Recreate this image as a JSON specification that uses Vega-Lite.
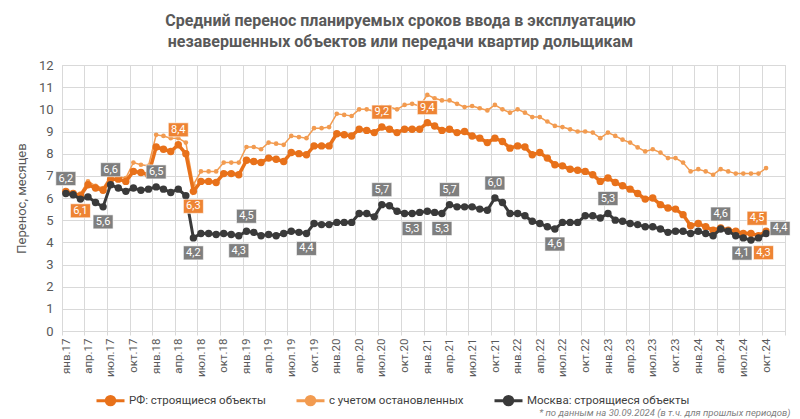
{
"$schema": "https://vega.github.io/schema/vega-lite/v6.json",
"width": 723, "height": 266,
"autosize": {"type": "none"},
"padding": {"left": 62, "top": 65, "right": 15, "bottom": 88},
"background": "white",
"title": {"text": ["Средний перенос планируемых сроков ввода в эксплуатацию", "незавершенных объектов или передачи квартир дольщикам"], "fontSize": 16, "fontWeight": "bold", "color": "#595959", "font": "Roboto", "anchor": "middle", "frame": "group", "dx": -23, "offset": 9, "lineHeight": 21},
"config": {
  "font": "Roboto",
  "view": {"stroke": "#d9d9d9", "strokeWidth": 1},
  "locale": {"number": {"decimal": ",", "thousands": " ", "grouping": [3], "currency": ["", " ₽"]}},
  "axis": {"gridColor": "#d9d9d9", "domainColor": "#d9d9d9", "tickColor": "#d9d9d9", "labelColor": "#595959", "titleColor": "#595959", "labelFont": "Roboto", "titleFont": "Roboto"},
  "axisY": {"labelFontSize": 13, "titleFontSize": 13, "titleFontWeight": "normal", "tickCount": 12, "ticks": false, "domain": false, "labelPadding": 9, "titlePadding": 10}
},
"datasets": {
  "m": [
{"d":"2017-01","rf":6.3,"st":6.3,"msk":6.2},
{"d":"2017-02","rf":6.2,"st":6.2,"msk":6.15},
{"d":"2017-03","rf":6.1,"st":6.2,"msk":5.95},
{"d":"2017-04","rf":6.6,"st":6.75,"msk":6.05},
{"d":"2017-05","rf":6.45,"st":6.55,"msk":5.8},
{"d":"2017-06","rf":6.35,"st":6.45,"msk":5.6},
{"d":"2017-07","rf":6.85,"st":7.0,"msk":6.6},
{"d":"2017-08","rf":6.85,"st":6.95,"msk":6.45},
{"d":"2017-09","rf":6.75,"st":6.9,"msk":6.3},
{"d":"2017-10","rf":7.2,"st":7.6,"msk":6.45},
{"d":"2017-11","rf":7.15,"st":7.5,"msk":6.35},
{"d":"2017-12","rf":7.05,"st":7.45,"msk":6.4},
{"d":"2018-01","rf":8.3,"st":8.85,"msk":6.5},
{"d":"2018-02","rf":8.2,"st":8.8,"msk":6.4},
{"d":"2018-03","rf":8.1,"st":8.7,"msk":6.25},
{"d":"2018-04","rf":8.4,"st":8.7,"msk":6.4},
{"d":"2018-05","rf":8.0,"st":8.5,"msk":6.1},
{"d":"2018-06","rf":6.3,"st":6.6,"msk":4.2},
{"d":"2018-07","rf":6.75,"st":7.2,"msk":4.4},
{"d":"2018-08","rf":6.75,"st":7.2,"msk":4.4},
{"d":"2018-09","rf":6.7,"st":7.2,"msk":4.35},
{"d":"2018-10","rf":7.1,"st":7.6,"msk":4.4},
{"d":"2018-11","rf":7.1,"st":7.6,"msk":4.35},
{"d":"2018-12","rf":7.05,"st":7.6,"msk":4.3},
{"d":"2019-01","rf":7.7,"st":8.3,"msk":4.5},
{"d":"2019-02","rf":7.65,"st":8.3,"msk":4.45},
{"d":"2019-03","rf":7.6,"st":8.2,"msk":4.3},
{"d":"2019-04","rf":7.8,"st":8.5,"msk":4.35},
{"d":"2019-05","rf":7.75,"st":8.45,"msk":4.3},
{"d":"2019-06","rf":7.65,"st":8.4,"msk":4.4},
{"d":"2019-07","rf":8.05,"st":8.8,"msk":4.5},
{"d":"2019-08","rf":8.0,"st":8.75,"msk":4.45},
{"d":"2019-09","rf":7.95,"st":8.7,"msk":4.4},
{"d":"2019-10","rf":8.35,"st":9.15,"msk":4.85},
{"d":"2019-11","rf":8.35,"st":9.15,"msk":4.8},
{"d":"2019-12","rf":8.35,"st":9.2,"msk":4.8},
{"d":"2020-01","rf":8.9,"st":9.8,"msk":4.9},
{"d":"2020-02","rf":8.85,"st":9.75,"msk":4.9},
{"d":"2020-03","rf":8.8,"st":9.7,"msk":4.9},
{"d":"2020-04","rf":9.1,"st":10.0,"msk":5.3},
{"d":"2020-05","rf":9.05,"st":10.0,"msk":5.3},
{"d":"2020-06","rf":8.95,"st":9.9,"msk":5.15},
{"d":"2020-07","rf":9.2,"st":10.1,"msk":5.7},
{"d":"2020-08","rf":9.1,"st":10.1,"msk":5.65},
{"d":"2020-09","rf":8.95,"st":10.0,"msk":5.4},
{"d":"2020-10","rf":9.1,"st":10.2,"msk":5.3},
{"d":"2020-11","rf":9.1,"st":10.25,"msk":5.3},
{"d":"2020-12","rf":9.1,"st":10.15,"msk":5.35},
{"d":"2021-01","rf":9.4,"st":10.65,"msk":5.4},
{"d":"2021-02","rf":9.25,"st":10.5,"msk":5.35},
{"d":"2021-03","rf":9.05,"st":10.4,"msk":5.3},
{"d":"2021-04","rf":9.1,"st":10.4,"msk":5.7},
{"d":"2021-05","rf":8.95,"st":10.25,"msk":5.6},
{"d":"2021-06","rf":9.0,"st":10.1,"msk":5.6},
{"d":"2021-07","rf":8.8,"st":10.15,"msk":5.6},
{"d":"2021-08","rf":8.7,"st":10.05,"msk":5.5},
{"d":"2021-09","rf":8.5,"st":9.95,"msk":5.45},
{"d":"2021-10","rf":8.7,"st":10.2,"msk":6.0},
{"d":"2021-11","rf":8.55,"st":10.0,"msk":5.8},
{"d":"2021-12","rf":8.25,"st":9.85,"msk":5.3},
{"d":"2022-01","rf":8.35,"st":10.0,"msk":5.3},
{"d":"2022-02","rf":8.3,"st":9.85,"msk":5.2},
{"d":"2022-03","rf":7.95,"st":9.65,"msk":4.95},
{"d":"2022-04","rf":8.05,"st":9.65,"msk":4.85},
{"d":"2022-05","rf":7.8,"st":9.45,"msk":4.7},
{"d":"2022-06","rf":7.5,"st":9.25,"msk":4.6},
{"d":"2022-07","rf":7.45,"st":9.2,"msk":4.9},
{"d":"2022-08","rf":7.3,"st":9.1,"msk":4.9},
{"d":"2022-09","rf":7.25,"st":9.0,"msk":4.9},
{"d":"2022-10","rf":7.2,"st":9.0,"msk":5.2},
{"d":"2022-11","rf":7.05,"st":8.95,"msk":5.2},
{"d":"2022-12","rf":6.75,"st":8.7,"msk":5.1},
{"d":"2023-01","rf":6.9,"st":8.95,"msk":5.3},
{"d":"2023-02","rf":6.7,"st":8.8,"msk":5.0},
{"d":"2023-03","rf":6.55,"st":8.63,"msk":4.95},
{"d":"2023-04","rf":6.4,"st":8.5,"msk":4.85},
{"d":"2023-05","rf":6.2,"st":8.28,"msk":4.8},
{"d":"2023-06","rf":5.95,"st":8.1,"msk":4.7},
{"d":"2023-07","rf":6.0,"st":8.2,"msk":4.7},
{"d":"2023-08","rf":5.7,"st":8.05,"msk":4.6},
{"d":"2023-09","rf":5.55,"st":7.8,"msk":4.45},
{"d":"2023-10","rf":5.5,"st":7.8,"msk":4.5},
{"d":"2023-11","rf":5.25,"st":7.6,"msk":4.5},
{"d":"2023-12","rf":4.75,"st":7.2,"msk":4.4},
{"d":"2024-01","rf":4.85,"st":7.3,"msk":4.5},
{"d":"2024-02","rf":4.7,"st":7.2,"msk":4.4},
{"d":"2024-03","rf":4.55,"st":7.05,"msk":4.3},
{"d":"2024-04","rf":4.65,"st":7.3,"msk":4.6},
{"d":"2024-05","rf":4.55,"st":7.2,"msk":4.5},
{"d":"2024-06","rf":4.5,"st":7.1,"msk":4.3},
{"d":"2024-07","rf":4.4,"st":7.1,"msk":4.2},
{"d":"2024-08","rf":4.4,"st":7.1,"msk":4.1},
{"d":"2024-09","rf":4.3,"st":7.1,"msk":4.2},
{"d":"2024-10","rf":4.5,"st":7.35,"msk":4.4}
  ],
  "lu": [
{"d":"2017-01","v":6.2,"s":"msk"},{"d":"2017-07","v":6.6,"s":"msk"},{"d":"2018-01","v":6.5,"s":"msk"},{"d":"2019-01","v":4.5,"s":"msk"},{"d":"2020-07","v":5.7,"s":"msk"},{"d":"2021-04","v":5.7,"s":"msk"},{"d":"2021-10","v":6.0,"s":"msk"},{"d":"2023-01","v":5.3,"s":"msk"},{"d":"2024-04","v":4.6,"s":"msk"},
{"d":"2018-04","v":8.4,"s":"rf"},{"d":"2020-07","v":9.2,"s":"rf"},{"d":"2021-01","v":9.4,"s":"rf"}
  ],
  "ld": [
{"d":"2017-06","v":5.6,"s":"msk"},{"d":"2018-06","v":4.2,"s":"msk"},{"d":"2018-12","v":4.3,"s":"msk"},{"d":"2019-09","v":4.4,"s":"msk"},{"d":"2020-11","v":5.3,"s":"msk"},{"d":"2021-03","v":5.3,"s":"msk"},{"d":"2022-06","v":4.6,"s":"msk"},
{"d":"2017-03","v":6.1,"s":"rf"},{"d":"2018-06","v":6.3,"s":"rf"}
  ],
  "lr": [{"d":"2024-10","v":4.4,"s":"msk"}],
  "lul": [{"d":"2024-10","v":4.5,"s":"rf"}],
  "ldl": [{"d":"2024-08","v":4.1,"s":"msk"}],
  "ldr": [{"d":"2024-09","v":4.3,"s":"rf"}]
},
"encoding": {
  "x": {"field": "d", "type": "temporal", "timeUnit": "utcyearmonth", "bandPosition": 0.5,
    "scale": {"domain": [{"year": 2017, "month": 1, "date": 1, "utc": true}, {"year": 2025, "month": 1, "date": 1, "utc": true}]},
    "title": "* по данным на 30.09.2024 (в т.ч. для прошлых периодов)",
    "axis": {"tickCount": {"interval": "month", "step": 3}, "labelAngle": -90, "labelFontSize": 11.5, "labelPadding": 3, "tickSize": 4, "labelOffset": 4, "labelOverlap": false, "labelBound": false,
      "labelExpr": "utcyear(datum.value) > 2024 ? '' : ['янв','фев','мар','апр','май','июн','июл','авг','сен','окт','ноя','дек'][utcmonth(datum.value)] + '.' + utcFormat(datum.value, '%y')",
      "titleFontSize": 9.5, "titleFontStyle": "italic", "titleFontWeight": "normal", "titleColor": "#7f7f7f", "titleAnchor": "end", "titleAlign": "right", "titleBaseline": "bottom", "titleX": 728, "titleY": 86}
  }
},
"layer": [
  {"data": {"name": "m"}, "mark": {"type": "line", "strokeWidth": 1.5},
   "encoding": {"y": {"field": "st", "type": "quantitative", "scale": {"domain": [0, 12]}, "title": "Перенос, месяцев"},
     "color": {"datum": "с учетом остановленных", "type": "nominal",
       "scale": {"domain": ["РФ: строящиеся объекты", "с учетом остановленных", "Москва: строящиеся объекты"], "range": ["#E8711A", "#F29B50", "#3A3A3A"]},
       "legend": {"orient": "none", "legendX": 33, "legendY": 320, "direction": "horizontal", "title": null, "symbolType": "M-1,0L-0.3,0M0.3,0L1,0M-0.3,0A0.3,0.3,0,1,0,0.3,0A0.3,0.3,0,1,0,-0.3,0", "symbolSize": 784, "symbolStrokeWidth": 3, "labelFontSize": 11.5, "labelColor": "#404040", "columnPadding": 24, "labelOffset": 3, "labelLimit": 300}}}},
  {"data": {"name": "m"}, "mark": {"type": "circle", "size": 22, "opacity": 1},
   "encoding": {"y": {"field": "st", "type": "quantitative", "scale": {"domain": [0, 12]}, "title": "Перенос, месяцев"},
     "color": {"datum": "с учетом остановленных", "type": "nominal"}}},
  {"data": {"name": "m"}, "mark": {"type": "line", "strokeWidth": 3.5},
   "encoding": {"y": {"field": "rf", "type": "quantitative", "scale": {"domain": [0, 12]}, "title": "Перенос, месяцев"},
     "color": {"datum": "РФ: строящиеся объекты", "type": "nominal"}}},
  {"data": {"name": "m"}, "mark": {"type": "circle", "size": 55, "opacity": 1},
   "encoding": {"y": {"field": "rf", "type": "quantitative", "scale": {"domain": [0, 12]}, "title": "Перенос, месяцев"},
     "color": {"datum": "РФ: строящиеся объекты", "type": "nominal"}}},
  {"data": {"name": "m"}, "mark": {"type": "line", "strokeWidth": 3},
   "encoding": {"y": {"field": "msk", "type": "quantitative", "scale": {"domain": [0, 12]}, "title": "Перенос, месяцев"},
     "color": {"datum": "Москва: строящиеся объекты", "type": "nominal"}}},
  {"data": {"name": "m"}, "mark": {"type": "circle", "size": 55, "opacity": 1},
   "encoding": {"y": {"field": "msk", "type": "quantitative", "scale": {"domain": [0, 12]}, "title": "Перенос, месяцев"},
     "color": {"datum": "Москва: строящиеся объекты", "type": "nominal"}}},
  {"data": {"name": "lu"}, "mark": {"type": "point", "shape": "M-1,-0.7L1,-0.7L1,0.7L-1,0.7Z", "size": 400, "filled": true, "opacity": 1, "yOffset": -15, "stroke": "#ffffff", "strokeWidth": 0.6},
   "encoding": {"y": {"field": "v", "type": "quantitative", "scale": {"domain": [0, 12]}, "title": "Перенос, месяцев"},
     "fill": {"field": "s", "type": "nominal", "scale": {"domain": ["rf", "msk"], "range": ["#EE8434", "#7F7F7F"]}, "legend": null}}},
  {"data": {"name": "lu"}, "mark": {"type": "text", "yOffset": -15, "color": "#ffffff", "fontSize": 11, "baseline": "middle", "align": "center"},
   "encoding": {"y": {"field": "v", "type": "quantitative", "scale": {"domain": [0, 12]}, "title": "Перенос, месяцев"},
     "text": {"field": "v", "type": "quantitative", "format": ".1f"}}},
  {"data": {"name": "ld"}, "mark": {"type": "point", "shape": "M-1,-0.7L1,-0.7L1,0.7L-1,0.7Z", "size": 400, "filled": true, "opacity": 1, "yOffset": 15, "stroke": "#ffffff", "strokeWidth": 0.6},
   "encoding": {"y": {"field": "v", "type": "quantitative", "scale": {"domain": [0, 12]}, "title": "Перенос, месяцев"},
     "fill": {"field": "s", "type": "nominal", "scale": {"domain": ["rf", "msk"], "range": ["#EE8434", "#7F7F7F"]}, "legend": null}}},
  {"data": {"name": "ld"}, "mark": {"type": "text", "yOffset": 15, "color": "#ffffff", "fontSize": 11, "baseline": "middle", "align": "center"},
   "encoding": {"y": {"field": "v", "type": "quantitative", "scale": {"domain": [0, 12]}, "title": "Перенос, месяцев"},
     "text": {"field": "v", "type": "quantitative", "format": ".1f"}}},
  {"data": {"name": "lr"}, "mark": {"type": "point", "shape": "M-1,-0.7L1,-0.7L1,0.7L-1,0.7Z", "size": 400, "filled": true, "opacity": 1, "xOffset": 14, "yOffset": -5, "stroke": "#ffffff", "strokeWidth": 0.6},
   "encoding": {"y": {"field": "v", "type": "quantitative", "scale": {"domain": [0, 12]}, "title": "Перенос, месяцев"},
     "fill": {"field": "s", "type": "nominal", "scale": {"domain": ["rf", "msk"], "range": ["#EE8434", "#7F7F7F"]}, "legend": null}}},
  {"data": {"name": "lr"}, "mark": {"type": "text", "xOffset": 14, "yOffset": -5, "color": "#ffffff", "fontSize": 11, "baseline": "middle", "align": "center"},
   "encoding": {"y": {"field": "v", "type": "quantitative", "scale": {"domain": [0, 12]}, "title": "Перенос, месяцев"},
     "text": {"field": "v", "type": "quantitative", "format": ".1f"}}},
  {"data": {"name": "lul"}, "mark": {"type": "point", "shape": "M-1,-0.7L1,-0.7L1,0.7L-1,0.7Z", "size": 400, "filled": true, "opacity": 1, "xOffset": -9, "yOffset": -13, "stroke": "#ffffff", "strokeWidth": 0.6},
   "encoding": {"y": {"field": "v", "type": "quantitative", "scale": {"domain": [0, 12]}, "title": "Перенос, месяцев"},
     "fill": {"field": "s", "type": "nominal", "scale": {"domain": ["rf", "msk"], "range": ["#EE8434", "#7F7F7F"]}, "legend": null}}},
  {"data": {"name": "lul"}, "mark": {"type": "text", "xOffset": -9, "yOffset": -13, "color": "#ffffff", "fontSize": 11, "baseline": "middle", "align": "center"},
   "encoding": {"y": {"field": "v", "type": "quantitative", "scale": {"domain": [0, 12]}, "title": "Перенос, месяцев"},
     "text": {"field": "v", "type": "quantitative", "format": ".1f"}}},
  {"data": {"name": "ldl"}, "mark": {"type": "point", "shape": "M-1,-0.7L1,-0.7L1,0.7L-1,0.7Z", "size": 400, "filled": true, "opacity": 1, "xOffset": -9, "yOffset": 13, "stroke": "#ffffff", "strokeWidth": 0.6},
   "encoding": {"y": {"field": "v", "type": "quantitative", "scale": {"domain": [0, 12]}, "title": "Перенос, месяцев"},
     "fill": {"field": "s", "type": "nominal", "scale": {"domain": ["rf", "msk"], "range": ["#EE8434", "#7F7F7F"]}, "legend": null}}},
  {"data": {"name": "ldl"}, "mark": {"type": "text", "xOffset": -9, "yOffset": 13, "color": "#ffffff", "fontSize": 11, "baseline": "middle", "align": "center"},
   "encoding": {"y": {"field": "v", "type": "quantitative", "scale": {"domain": [0, 12]}, "title": "Перенос, месяцев"},
     "text": {"field": "v", "type": "quantitative", "format": ".1f"}}},
  {"data": {"name": "ldr"}, "mark": {"type": "point", "shape": "M-1,-0.7L1,-0.7L1,0.7L-1,0.7Z", "size": 400, "filled": true, "opacity": 1, "xOffset": 5, "yOffset": 17, "stroke": "#ffffff", "strokeWidth": 0.6},
   "encoding": {"y": {"field": "v", "type": "quantitative", "scale": {"domain": [0, 12]}, "title": "Перенос, месяцев"},
     "fill": {"field": "s", "type": "nominal", "scale": {"domain": ["rf", "msk"], "range": ["#EE8434", "#7F7F7F"]}, "legend": null}}},
  {"data": {"name": "ldr"}, "mark": {"type": "text", "xOffset": 5, "yOffset": 17, "color": "#ffffff", "fontSize": 11, "baseline": "middle", "align": "center"},
   "encoding": {"y": {"field": "v", "type": "quantitative", "scale": {"domain": [0, 12]}, "title": "Перенос, месяцев"},
     "text": {"field": "v", "type": "quantitative", "format": ".1f"}}}
]
}
